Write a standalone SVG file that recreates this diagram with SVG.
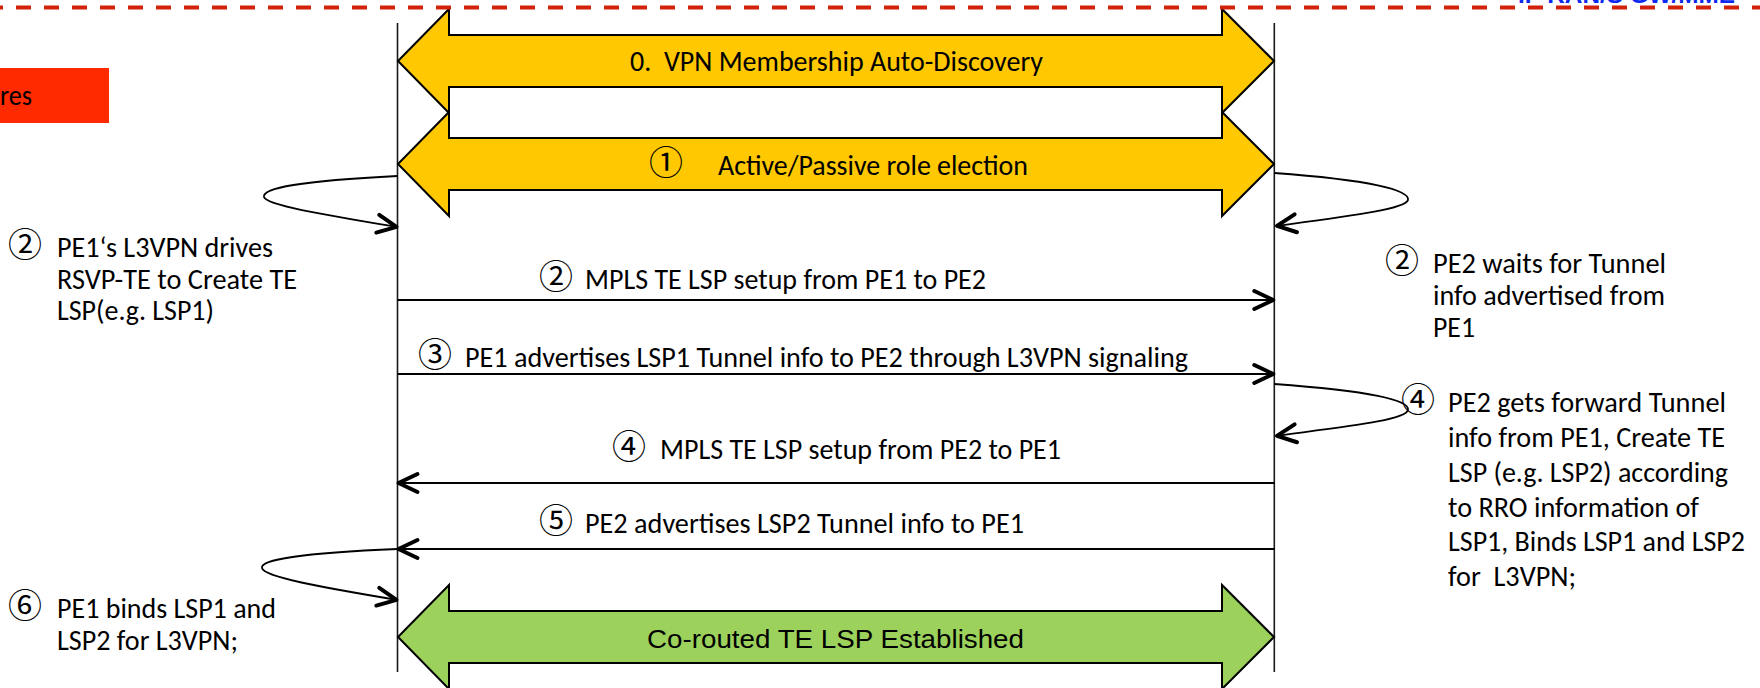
<svg xmlns="http://www.w3.org/2000/svg" width="1760" height="688" viewBox="0 0 1760 688">
<style>
.t{font-family:Carlito,Calibri,Lato,"Noto Sans",sans-serif;font-size:28px;fill:#000}
.c{font-family:"Noto Sans CJK JP","Noto Sans CJK SC","DejaVu Sans",sans-serif;font-size:34px;fill:#000;text-anchor:middle}
.a{font-family:"Liberation Sans",Arial,sans-serif;font-size:26px;fill:#000}
.life{stroke:#1a1a1a;stroke-width:1.6;fill:none}
.band{stroke:#000;stroke-width:2;stroke-linejoin:miter}
.yel{fill:#FFC800}
.grn{fill:#9CD25C}
.msg{stroke:#000;stroke-width:2;fill:none;marker-end:url(#arr)}
.loop{stroke:#000;stroke-width:1.8;fill:none;marker-end:url(#arr)}
</style>
<defs>
<marker id="arr" markerUnits="userSpaceOnUse" viewBox="-4 -4 30 28" markerWidth="30" markerHeight="28" refX="21" refY="9.5" orient="auto" style="overflow:visible">
<path d="M1,0.5 L20,9.5 L1,18.5" fill="none" stroke="#000" stroke-width="4" stroke-linejoin="round" stroke-linecap="round"/>
</marker>
</defs>
<rect width="1760" height="688" fill="#fff"/>

<g id="banner">
<rect x="0" y="68" width="109" height="55" fill="#FF2A00"/>
<text class="t" x="0" y="105" textLength="32" lengthAdjust="spacingAndGlyphs">res</text>
<text x="1518" y="3" font-family="'Liberation Sans',Arial,sans-serif" font-size="24" font-weight="bold" fill="#0A28F0" textLength="217" lengthAdjust="spacingAndGlyphs">IP RAN/S GW/MME</text>
</g>

<g id="lifeline-pe1"><line class="life" x1="397.5" y1="23" x2="397.5" y2="672"/></g>
<g id="lifeline-pe2"><line class="life" x1="1274.3" y1="23" x2="1274.3" y2="672"/></g>

<g id="step0-discovery">
<polygon class="band yel" points="398,61 449,9 449,35 1222,35 1222,9 1274,61 1222,113 1222,87 449,87 449,113"/>
<text class="t" x="630" y="71" xml:space="preserve" textLength="413" lengthAdjust="spacingAndGlyphs">0.  VPN Membership Auto-Discovery</text>
</g>

<g id="step1-election">
<polygon class="band yel" points="398,164 449,112 449,138 1222,138 1222,112 1274,164 1222,216 1222,190 449,190 449,216"/>
<text class="c" x="666" y="175">①</text>
<text class="t" x="718" y="175" textLength="310" lengthAdjust="spacingAndGlyphs">Active/Passive role election</text>
</g>

<g id="step-final-established">
<polygon class="band grn" points="398,637 449,585 449,611 1222,611 1222,585 1274,637 1222,689 1222,663 449,663 449,689"/>
<text class="a" x="647" y="648" textLength="377" lengthAdjust="spacingAndGlyphs">Co-routed TE LSP Established</text>
</g>

<g id="note-pe1-step2">
<text class="c" x="25" y="257">②</text>
<text class="t" x="57" y="257" textLength="216" lengthAdjust="spacingAndGlyphs">PE1‘s L3VPN drives</text>
<text class="t" x="57" y="288.5" textLength="240" lengthAdjust="spacingAndGlyphs">RSVP-TE to Create TE</text>
<text class="t" x="57" y="320" textLength="157" lengthAdjust="spacingAndGlyphs">LSP(e.g. LSP1)</text>
</g>

<g id="note-pe1-step6">
<text class="c" x="25" y="618">⑥</text>
<text class="t" x="57" y="618" textLength="219" lengthAdjust="spacingAndGlyphs">PE1 binds LSP1 and</text>
<text class="t" x="57" y="650" textLength="181" lengthAdjust="spacingAndGlyphs">LSP2 for L3VPN;</text>
</g>

<g id="note-pe2-step2">
<text class="c" x="1402" y="273">②</text>
<text class="t" x="1433" y="273" textLength="233" lengthAdjust="spacingAndGlyphs">PE2 waits for Tunnel</text>
<text class="t" x="1433" y="305" textLength="232" lengthAdjust="spacingAndGlyphs">info advertised from</text>
<text class="t" x="1433" y="337" textLength="42" lengthAdjust="spacingAndGlyphs">PE1</text>
</g>

<g id="note-pe2-step4">
<text class="c" x="1418" y="412">④</text>
<text class="t" x="1448" y="412" textLength="278" lengthAdjust="spacingAndGlyphs">PE2 gets forward Tunnel</text>
<text class="t" x="1448" y="447" textLength="277" lengthAdjust="spacingAndGlyphs">info from PE1, Create TE</text>
<text class="t" x="1448" y="482" textLength="280" lengthAdjust="spacingAndGlyphs">LSP (e.g. LSP2) according</text>
<text class="t" x="1448" y="517" textLength="251" lengthAdjust="spacingAndGlyphs">to RRO information of</text>
<text class="t" x="1448" y="551" textLength="297" lengthAdjust="spacingAndGlyphs">LSP1, Binds LSP1 and LSP2</text>
<text class="t" x="1448" y="586" xml:space="preserve" textLength="128" lengthAdjust="spacingAndGlyphs">for  L3VPN;</text>
</g>

<g id="connectors">
<path class="loop" d="M397.5,176 C300,181 262,188 264,197 C266,205 320,214 397.5,227"/>
<path class="loop" d="M1274.3,173 C1370,180 1410,190 1408,200 C1406,209 1350,216 1276,226"/>
<path class="loop" d="M1274.3,384 C1370,391 1410,400 1408,410 C1406,420 1350,426 1276,436"/>
<path class="loop" d="M397.5,549 C300,553 260,560 262,568 C264,577 320,587 397.5,600"/>
<line class="msg" x1="397.5" y1="300" x2="1274.3" y2="300"/>
<line class="msg" x1="397.5" y1="374" x2="1274.3" y2="374"/>
<line class="msg" x1="1274.3" y1="483" x2="397.5" y2="483"/>
<line class="msg" x1="1274.3" y1="549" x2="397.5" y2="549"/>
<text class="c" x="556" y="289">②</text>
<text class="t" x="585" y="289" textLength="401" lengthAdjust="spacingAndGlyphs">MPLS TE LSP setup from PE1 to PE2</text>
<text class="c" x="435" y="367">③</text>
<text class="t" x="465" y="367" textLength="723" lengthAdjust="spacingAndGlyphs">PE1 advertises LSP1 Tunnel info to PE2 through L3VPN signaling</text>
<text class="c" x="629" y="459">④</text>
<text class="t" x="660" y="459" textLength="401" lengthAdjust="spacingAndGlyphs">MPLS TE LSP setup from PE2 to PE1</text>
<text class="c" x="556" y="533">⑤</text>
<text class="t" x="585" y="533" textLength="439" lengthAdjust="spacingAndGlyphs">PE2 advertises LSP2 Tunnel info to PE1</text>
</g>

<g id="frame">
<line x1="0" y1="7.5" x2="1760" y2="7.5" stroke="#D2220A" stroke-width="4" stroke-dasharray="15 13" stroke-dashoffset="12"/>
</g>
</svg>
